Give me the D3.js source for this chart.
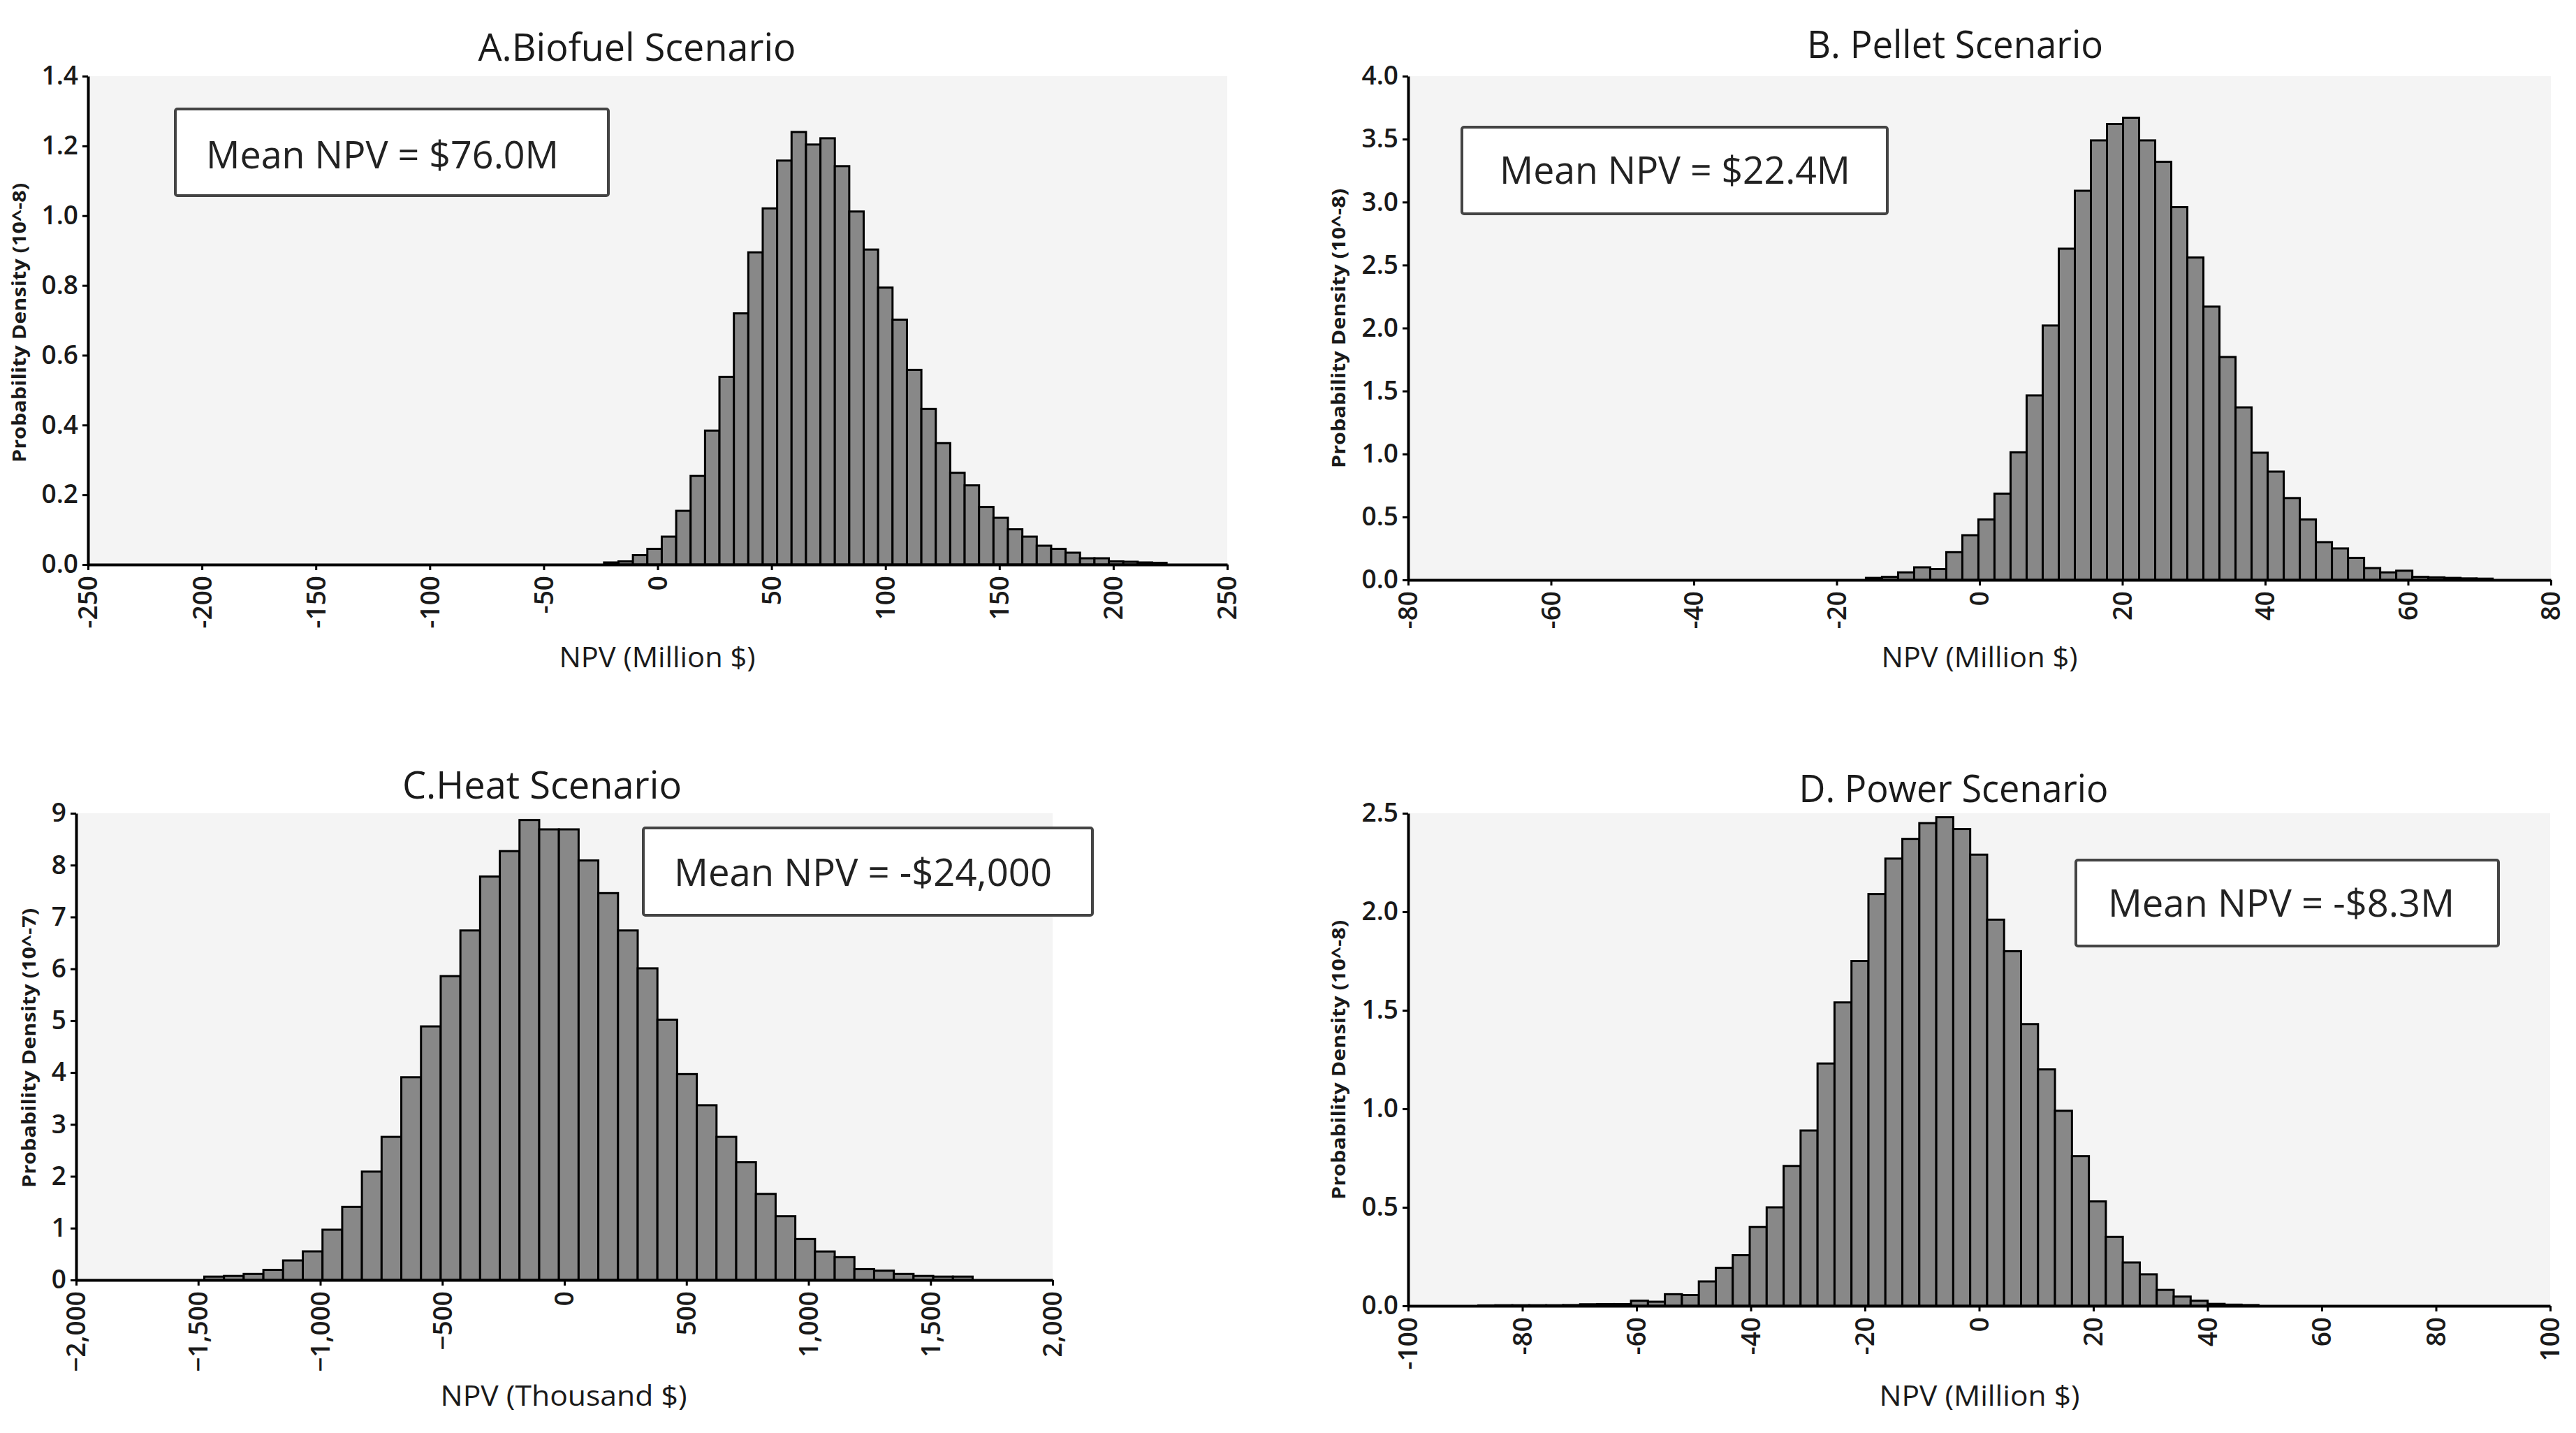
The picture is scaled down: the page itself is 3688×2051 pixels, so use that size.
<!DOCTYPE html>
<html>
<head>
<meta charset="utf-8">
<script src="https://cdn.jsdelivr.net/npm/d3@7"></script>
<style>
  body { margin: 0; background: #fff; }
  text { font-family: "Open Sans", "DejaVu Sans", sans-serif; fill: #1a1a1a; }
</style>
</head>
<body>
<div id="container"></div>
<script>
/* DATA */
// histogram heights, one per bin (left to right)
const biofuelDensity = [0.006, 0.009, 0.027, 0.045, 0.080, 0.154, 0.254, 0.384, 0.538, 0.720,
  0.895, 1.021, 1.158, 1.240, 1.204, 1.222, 1.142, 1.012, 0.903, 0.794,
  0.702, 0.558, 0.446, 0.348, 0.263, 0.227, 0.165, 0.134, 0.101, 0.080,
  0.054, 0.045, 0.034, 0.018, 0.018, 0.009, 0.008, 0.006, 0.005];
const biofuelBins = [-23.5, 6.33]; // first bin edge, bin width
const biofuelXTicks = [-250, -200, -150, -100, -50, 0, 50, 100, 150, 200, 250];
const biofuelYTicks = [0, 0.2, 0.4, 0.6, 0.8, 1.0, 1.2, 1.4];

const pelletDensity = [0.016, 0.024, 0.06, 0.10, 0.086, 0.22, 0.355, 0.48, 0.685, 1.013,
  1.465, 2.02, 2.63, 3.09, 3.49, 3.62, 3.67, 3.49, 3.32, 2.96,
  2.56, 2.17, 1.77, 1.37, 1.01, 0.86, 0.65, 0.48, 0.30, 0.25,
  0.175, 0.094, 0.06, 0.073, 0.024, 0.02, 0.016, 0.012, 0.01];
const pelletBins = [-15.9, 2.25];
const pelletXTicks = [-80, -60, -40, -20, 0, 20, 40, 60, 80];
const pelletYTicks = [0, 0.5, 1.0, 1.5, 2.0, 2.5, 3.0, 3.5, 4.0];

const heatDensity = [0.065, 0.078, 0.117, 0.195, 0.377, 0.552, 0.97, 1.41, 2.09, 2.76,
  3.91, 4.89, 5.86, 6.74, 7.78, 8.27, 8.87, 8.69, 8.69, 8.09,
  7.46, 6.74, 6.01, 5.02, 3.97, 3.37, 2.76, 2.27, 1.66, 1.23,
  0.79, 0.55, 0.44, 0.21, 0.18, 0.117, 0.078, 0.065, 0.065];
const heatBins = [-1475, 80.7];
const heatXTicks = [-2000, -1500, -1000, -500, 0, 500, 1000, 1500, 2000];
const heatYTicks = [0, 1, 2, 3, 4, 5, 6, 7, 8, 9];

const powerDensity = [0.002, 0.003, 0.003, 0.003, 0.003, 0.004, 0.008, 0.009, 0.009,
  0.026, 0.021, 0.059, 0.055, 0.124, 0.193, 0.257, 0.40, 0.50, 0.71,
  0.89, 1.23, 1.54, 1.75, 2.09, 2.27, 2.37, 2.45, 2.48, 2.42,
  2.29, 1.96, 1.80, 1.43, 1.20, 0.99, 0.76, 0.53, 0.35, 0.22,
  0.16, 0.081, 0.047, 0.026, 0.01, 0.006, 0.004];
const powerBins = [-87.7, 2.97];
const powerXTicks = [-100, -80, -60, -40, -20, 0, 20, 40, 60, 80, 100];
const powerYTicks = [0, 0.5, 1.0, 1.5, 2.0, 2.5];

const titles = ["A.Biofuel Scenario", "B. Pellet Scenario", "C.Heat Scenario", "D. Power Scenario"];
const meanLabels = ["Mean NPV = $76.0M", "Mean NPV = $22.4M", "Mean NPV = -$24,000", "Mean NPV = -$8.3M"];
const xTitles = ["NPV (Million $)", "NPV (Million $)", "NPV (Thousand $)", "NPV (Million $)"];
const yTitles = ["Probability Density (10^-8)", "Probability Density (10^-8)",
  "Probability Density (10^-7)", "Probability Density (10^-8)"];

/* CONSTANTS AND GLOBALS */
const width = 3688;
const height = 2051;

const fmt1 = d3.format(".1f");
const fmtInt = d3.format(",");

const panels = [
  { density: biofuelDensity, bins: biofuelBins, xTicks: biofuelXTicks, yTicks: biofuelYTicks,
    xFormat: d => d, yFormat: fmt1,
    left: 126, right: 1757, top: 109, bottom: 808,
    titleX: 912, titleY: 87, titleLen: 455,
    box: [251, 156, 620, 124], boxText: [295, 241, 505],
    xTitleX: 941, xTitleY: 955, xTitleLen: 281, yTitleX: 28, yTitleY: 462 },
  { density: pelletDensity, bins: pelletBins, xTicks: pelletXTicks, yTicks: pelletYTicks,
    xFormat: d => d, yFormat: fmt1,
    left: 2016, right: 3652, top: 109, bottom: 830,
    titleX: 2799, titleY: 83, titleLen: 424,
    box: [2093, 182, 609, 124], boxText: [2147, 263, 502],
    xTitleX: 2834, xTitleY: 955, xTitleLen: 281, yTitleX: 1917, yTitleY: 470 },
  { density: heatDensity, bins: heatBins, xTicks: heatXTicks, yTicks: heatYTicks,
    xFormat: fmtInt, yFormat: d => d,
    left: 109, right: 1507, top: 1164, bottom: 1832,
    titleX: 776, titleY: 1143, titleLen: 400,
    box: [921, 1185, 643, 125], boxText: [965, 1268, 541],
    xTitleX: 807, xTitleY: 2012, xTitleLen: 353, yTitleX: 42, yTitleY: 1500 },
  { density: powerDensity, bins: powerBins, xTicks: powerXTicks, yTicks: powerYTicks,
    xFormat: d => d, yFormat: fmt1,
    left: 2016, right: 3651, top: 1164, bottom: 1869,
    titleX: 2797, titleY: 1148, titleLen: 443,
    box: [2972, 1231, 605, 123], boxText: [3018, 1312, 496],
    xTitleX: 2834, xTitleY: 2012, xTitleLen: 287, yTitleX: 1917, yTitleY: 1517 }
];

/* HTML ELEMENTS */
const svg = d3.select("#container")
  .append("svg")
  .attr("width", width)
  .attr("height", height)
  .style("display", "block")
  .style("background-color", "white");

panels.forEach((p, k) => {
  const xScale = d3.scaleLinear()
    .domain([p.xTicks[0], p.xTicks[p.xTicks.length - 1]])
    .range([p.left, p.right]);
  const yScale = d3.scaleLinear()
    .domain([0, p.yTicks[p.yTicks.length - 1]])
    .range([p.bottom, p.top]);

  const g = svg.append("g");

  // plot background
  g.append("rect")
    .attr("x", p.left)
    .attr("y", p.top)
    .attr("width", p.right - p.left)
    .attr("height", p.bottom - p.top)
    .attr("fill", "#f4f4f4");

  const [binStart, binWidth] = p.bins;
  g.selectAll("rect.bar")
    .data(p.density)
    .join("rect")
    .attr("class", "bar")
    .attr("x", (d, i) => xScale(binStart + i * binWidth))
    .attr("width", xScale(binWidth) - xScale(0))
    .attr("y", d => yScale(d))
    .attr("height", d => yScale(0) - yScale(d))
    .attr("fill", "#888888")
    .attr("stroke", "#000")
    .attr("stroke-width", 3);

  // x axis
  const gx = g.append("g")
    .attr("transform", `translate(0,${p.bottom})`)
    .call(d3.axisBottom(xScale).tickValues(p.xTicks).tickFormat(p.xFormat).tickSize(8).tickSizeOuter(0));
  gx.select(".domain").attr("stroke", "#000").attr("stroke-width", 4);
  gx.selectAll(".tick line").attr("stroke", "#000").attr("stroke-width", 3);
  gx.selectAll(".tick text")
    .attr("transform", "rotate(-90)")
    .attr("x", -16)
    .attr("y", 0)
    .attr("dy", "0.35em")
    .attr("text-anchor", "end")
    .style("font-size", "37px")
    .style("font-weight", 600);

  // y axis
  const gy = g.append("g")
    .attr("transform", `translate(${p.left},0)`)
    .call(d3.axisLeft(yScale).tickValues(p.yTicks).tickFormat(p.yFormat).tickSize(8).tickPadding(6).tickSizeOuter(0));
  gy.select(".domain").attr("stroke", "#000").attr("stroke-width", 4);
  gy.selectAll(".tick line").attr("stroke", "#000").attr("stroke-width", 3);
  gy.selectAll(".tick text")
    .style("font-size", "37px")
    .style("font-weight", 600);

  // title
  g.append("text")
    .attr("x", p.titleX)
    .attr("y", p.titleY)
    .attr("text-anchor", "middle")
    .attr("textLength", p.titleLen)
    .attr("lengthAdjust", "spacingAndGlyphs")
    .style("font-size", "54px")
    .text(titles[k]);

  // mean box
  g.append("rect")
    .attr("x", p.box[0])
    .attr("y", p.box[1])
    .attr("width", p.box[2])
    .attr("height", p.box[3])
    .attr("rx", 3)
    .attr("fill", "white")
    .attr("stroke", "#444")
    .attr("stroke-width", 4);
  g.append("text")
    .attr("x", p.boxText[0])
    .attr("y", p.boxText[1])
    .attr("textLength", p.boxText[2])
    .attr("lengthAdjust", "spacingAndGlyphs")
    .style("font-size", "54px")
    .style("fill", "#222")
    .text(meanLabels[k]);

  // axis titles
  g.append("text")
    .attr("x", p.xTitleX)
    .attr("y", p.xTitleY)
    .attr("text-anchor", "middle")
    .attr("textLength", p.xTitleLen)
    .attr("lengthAdjust", "spacingAndGlyphs")
    .style("font-size", "40px")
    .text(xTitles[k]);

  g.append("text")
    .attr("transform", `translate(${p.yTitleX},${p.yTitleY}) rotate(-90)`)
    .attr("dy", "0.35em")
    .attr("text-anchor", "middle")
    .attr("textLength", 400)
    .attr("lengthAdjust", "spacingAndGlyphs")
    .style("font-size", "26px")
    .style("font-weight", 700)
    .text(yTitles[k]);
});
</script>
</body>
</html>
